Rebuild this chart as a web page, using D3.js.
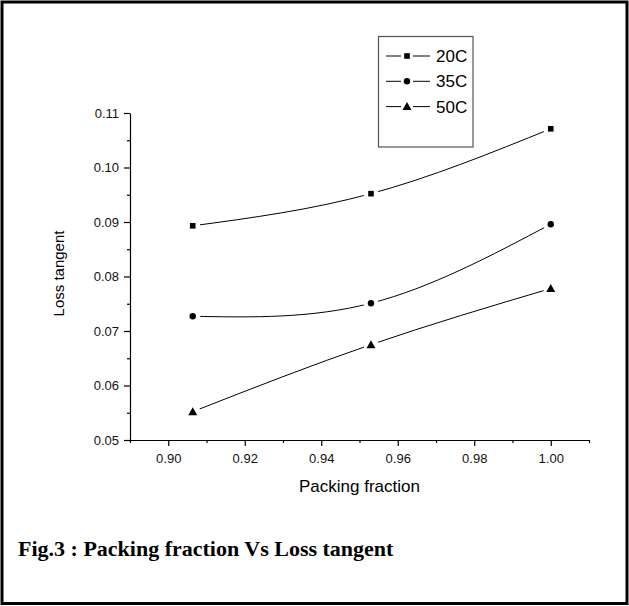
<!DOCTYPE html>
<html>
<head>
<meta charset="utf-8">
<script src="https://cdn.jsdelivr.net/npm/d3@7"></script>
<style>
  html, body { margin: 0; padding: 0; background: #fff; }
  svg { display: block; }
</style>
</head>
<body>
<svg id="chart" width="629" height="606"></svg>
<script>
// Packing fraction on the x axis, loss tangent per temperature
const packing = [0.9064, 0.9530, 1.0000];
const temps = ["20C", "35C", "50C"];
const loss20 = [0.0893, 0.0952, 0.1071];
const loss35 = [0.0727, 0.0751, 0.0896];
const loss50 = [0.0552, 0.0675, 0.0778];
const xTicks = [0.90, 0.92, 0.94, 0.96, 0.98, 1.00];
const yTicks = [0.05, 0.06, 0.07, 0.08, 0.09, 0.10, 0.11];
const markers = ["square", "circle", "triangle"];

const series = [loss20, loss35, loss50].map((vals, i) => ({
  name: temps[i],
  marker: markers[i],
  points: vals.map((v, j) => ({ x: packing[j], y: v }))
}));

const svg = d3.select("#chart");
const W = 629, H = 606;
const plot = { left: 130, right: 589, top: 113, bottom: 440 };

// outer frame
svg.append("rect")
  .attr("x", 2).attr("y", 2).attr("width", W - 4).attr("height", H - 4.5)
  .attr("fill", "none").attr("stroke", "#000").attr("stroke-width", 3);

const x = d3.scaleLinear().domain([0.89, 1.01]).range([plot.left, plot.right]);
const y = d3.scaleLinear().domain([0.05, 0.11]).range([plot.bottom, plot.top]);

const axisFont = "'Liberation Sans', Arial, sans-serif";

// x axis with major and minor ticks
const gx = svg.append("g").attr("transform", `translate(0,${plot.bottom})`);
gx.call(d3.axisBottom(x).tickValues(xTicks).tickFormat(d3.format(".2f"))
  .tickSizeInner(6).tickSizeOuter(0).tickPadding(8));
gx.append("g").call(d3.axisBottom(x)
  .tickValues([0.89, 0.91, 0.93, 0.95, 0.97, 0.99, 1.01]).tickFormat("")
  .tickSizeInner(3).tickSizeOuter(0))
  .select(".domain").remove();

// y axis with major and minor ticks
const gy = svg.append("g").attr("transform", `translate(${plot.left},0)`);
gy.call(d3.axisLeft(y).tickValues(yTicks).tickFormat(d3.format(".2f"))
  .tickSizeInner(6).tickSizeOuter(0).tickPadding(5));
gy.append("g").call(d3.axisLeft(y)
  .tickValues([0.055, 0.065, 0.075, 0.085, 0.095, 0.105]).tickFormat("")
  .tickSizeInner(3).tickSizeOuter(0))
  .select(".domain").remove();

[gx, gy].forEach(g => {
  g.selectAll("path, line").attr("stroke", "#000").attr("stroke-width", 1.2);
  g.selectAll("text").attr("font-family", axisFont).attr("font-size", 13).attr("fill", "#111");
});

// axis titles
svg.append("text")
  .attr("x", (plot.left + plot.right) / 2).attr("y", 492)
  .attr("text-anchor", "middle")
  .attr("font-family", axisFont).attr("font-size", 17)
  .text("Packing fraction");
svg.append("text")
  .attr("transform", `translate(64,${(plot.top + plot.bottom) / 2 - 3}) rotate(-90)`)
  .attr("text-anchor", "middle")
  .attr("font-family", axisFont).attr("font-size", 15)
  .text("Loss tangent");

// marker drawing helper
function drawMarker(g, type, cx, cy) {
  if (type === "square") {
    g.append("rect").attr("x", cx - 2.8).attr("y", cy - 2.8)
      .attr("width", 5.6).attr("height", 5.6).attr("fill", "#000");
  } else if (type === "circle") {
    g.append("circle").attr("cx", cx).attr("cy", cy).attr("r", 3.2).attr("fill", "#000");
  } else {
    g.append("path")
      .attr("d", `M${cx},${cy - 4.5}L${cx + 4.5},${cy + 3.5}L${cx - 4.5},${cy + 3.5}Z`)
      .attr("fill", "#000");
  }
}

// spline curves, broken near each symbol
const line = d3.line().x(d => x(d.x)).y(d => y(d.y)).curve(d3.curveNatural);
const defs = svg.append("defs");
series.forEach((s, i) => {
  const m = defs.append("mask").attr("id", "gap" + i).attr("maskUnits", "userSpaceOnUse")
    .attr("x", 0).attr("y", 0).attr("width", W).attr("height", H);
  m.append("rect").attr("width", W).attr("height", H).attr("fill", "#fff");
  s.points.forEach(p => {
    m.append("circle").attr("cx", x(p.x)).attr("cy", y(p.y)).attr("r", 7.5).attr("fill", "#000");
  });
  svg.append("path")
    .datum(s.points)
    .attr("d", line)
    .attr("fill", "none").attr("stroke", "#000").attr("stroke-width", 1)
    .attr("mask", `url(#gap${i})`);
  const g = svg.append("g");
  s.points.forEach(p => drawMarker(g, s.marker, x(p.x), y(p.y)));
});

// legend
const lg = svg.append("g");
lg.append("rect")
  .attr("x", 378.5).attr("y", 36.5).attr("width", 94.5).attr("height", 110.5)
  .attr("fill", "#fff").attr("stroke", "#555").attr("stroke-width", 1.2);
series.forEach((s, i) => {
  const cy = 56 + i * 25.3;
  lg.append("line").attr("x1", 386).attr("x2", 401).attr("y1", cy).attr("y2", cy)
    .attr("stroke", "#000").attr("stroke-width", 1);
  lg.append("line").attr("x1", 413).attr("x2", 430).attr("y1", cy).attr("y2", cy)
    .attr("stroke", "#000").attr("stroke-width", 1);
  drawMarker(lg, s.marker, 407, cy);
  lg.append("text").attr("x", 436).attr("y", cy + 6)
    .attr("font-family", axisFont).attr("font-size", 17)
    .text(s.name);
});

// caption
svg.append("text")
  .attr("x", 18).attr("y", 556)
  .attr("font-family", "'Liberation Serif', 'Times New Roman', serif")
  .attr("font-weight", "bold").attr("font-size", 22)
  .text("Fig.3 : Packing fraction Vs Loss tangent");
</script>
</body>
</html>
